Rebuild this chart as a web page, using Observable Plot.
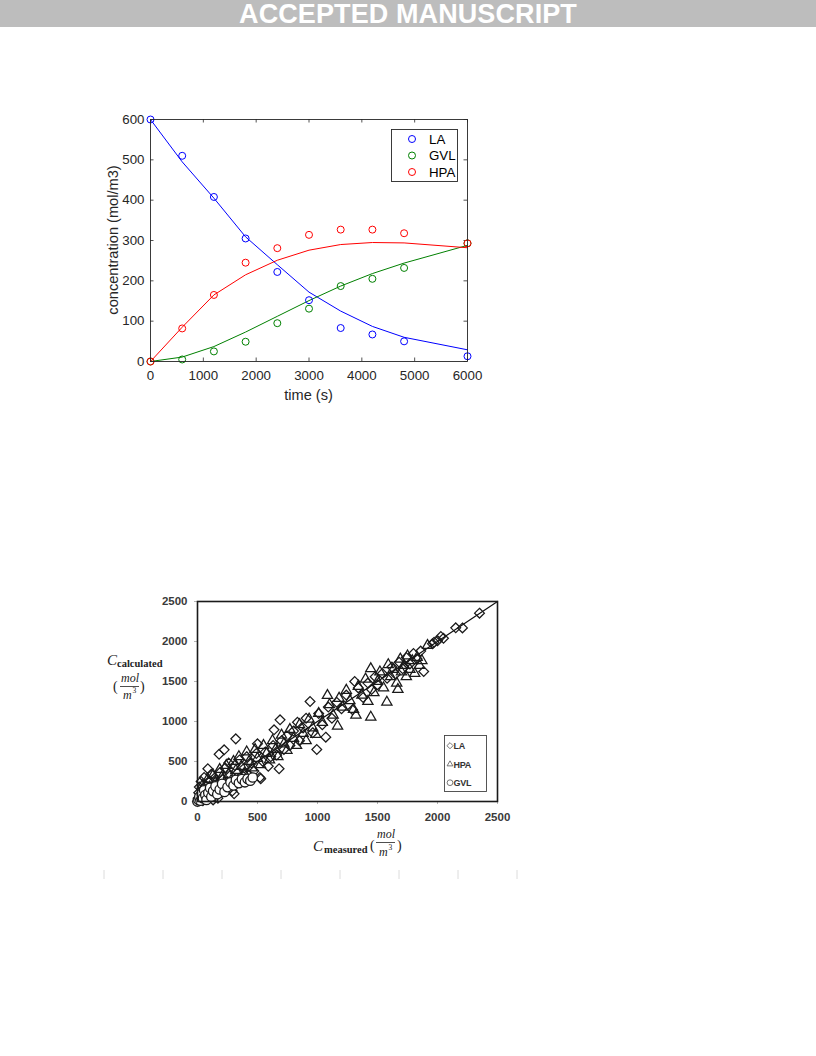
<!DOCTYPE html>
<html>
<head>
<meta charset="utf-8">
<script src="https://cdn.jsdelivr.net/npm/d3@7"></script>
<script src="https://cdn.jsdelivr.net/npm/@observablehq/plot@0.6"></script>
<style>
  html, body { margin: 0; padding: 0; background: #fff; }
  body { width: 816px; height: 1056px; position: relative; overflow: hidden; font-family: "Liberation Sans", Arial, sans-serif; }
  #banner { position: absolute; left: 0; top: 0; width: 816px; height: 27px; background: #bdbdbd; color: #fff;
            font-weight: bold; font-size: 27px; line-height: 29px; text-align: center; letter-spacing: 0.1px; }
  #chart1 { position: absolute; left: 100px; top: 100px; }
  #chart2 { position: absolute; left: 100px; top: 590px; }
  #overlay { position: absolute; left: 0; top: 0; pointer-events: none; }
</style>
</head>
<body>
<div id="banner">ACCEPTED MANUSCRIPT</div>
<div id="chart1"></div>
<div id="chart2"></div>
<script>
// ---------- Chart 1 data: concentration vs time ----------
const times = [0, 600, 1200, 1800, 2400, 3000, 3600, 4200, 4800, 6000];
const seriesNames = ["LA", "GVL", "HPA"];
const seriesColors = ["#0000ff", "#008000", "#ff0000"];
const measLA  = [600, 510, 408, 305, 222, 152, 83, 67, 50, 13];
const measGVL = [0, 5, 25, 49, 95, 131, 187, 205, 232, 293];
const measHPA = [0, 82, 165, 245, 281, 314, 327, 327, 318, 293];
const modelLA  = [600, 495, 405, 309, 240, 172, 125, 87, 60, 29];
const modelGVL = [0, 11, 37, 73, 112, 151, 187, 218, 244, 288];
const modelHPA = [0, 85, 165, 215, 251, 276, 290, 295, 294, 282];
const xTicks1 = [0, 1000, 2000, 3000, 4000, 5000, 6000];
const yTicks1 = [0, 100, 200, 300, 400, 500, 600];

// ---------- Chart 2 data: calculated vs measured ----------
const parityLine = [0, 2500];
const xTicks2 = [0, 500, 1000, 1500, 2000, 2500];
const yTicks2 = [0, 500, 1000, 1500, 2000, 2500];
const parityNames = ["LA", "HPA", "GVL"];
const laPoints = [[0,0],[5,40],[10,110],[15,180],[20,20],[25,70],[30,250],[40,150],[45,10],[55,300],[60,90],[70,200],[75,40],[86,409],[90,130],[100,260],[110,60],[115,340],[125,180],[130,20],[140,290],[150,100],[160,220],[170,40],[180,590],[185,360],[200,150],[210,280],[222,646],[230,420],[250,200],[260,480],[275,330],[290,130],[305,96],[310,450],[319,783],[335,360],[350,520],[370,250],[390,420],[410,560],[430,330],[450,480],[470,380],[490,600],[500,721],[520,300],[527,284],[545,500],[565,620],[590,440],[610,560],[630,700],[638,896],[660,580],[680,409],[688,1021],[700,760],[720,650],[745,820],[770,700],[800,880],[833,991],[850,760],[880,920],[905,1040],[938,1250],[960,860],[994,650],[1010,1100],[1040,960],[1069,804],[1090,1180],[1120,1040],[1160,1240],[1200,1160],[1240,1330],[1292,1146],[1310,1500],[1340,1420],[1380,1300],[1420,1480],[1450,1400],[1480,1560],[1500,1460],[1540,1600],[1580,1540],[1620,1680],[1650,1590],[1680,1740],[1710,1660],[1740,1800],[1770,1720],[1800,1850],[1830,1780],[1860,1880],[1885,1625],[1958,1971],[1972,1991],[2000,2010],[2028,2063],[2050,2040],[2152,2171],[2208,2170],[2350,2354]];
const hpaPoints = [[10,30],[25,90],[40,200],[55,140],[70,60],[85,280],[100,180],[115,110],[130,330],[150,240],[165,170],[185,400],[200,300],[220,220],[240,450],[260,340],[280,260],[300,500],[320,390],[345,560],[365,440],[390,350],[410,620],[430,500],[455,420],[480,650],[500,540],[525,460],[550,700],[575,600],[600,520],[625,760],[650,650],[670,560],[700,830],[720,720],[745,640],[770,900],[800,790],[825,700],[850,960],[880,850],[905,760],[930,1030],[960,920],[985,840],[1010,1100],[1040,990],[1083,1325],[1100,1210],[1130,1080],[1167,941],[1180,1290],[1210,1180],[1240,1390],[1270,1260],[1300,1150],[1320,1080],[1340,1440],[1370,1330],[1400,1530],[1420,1250],[1444,1659],[1444,1054],[1470,1360],[1500,1500],[1520,1620],[1550,1420],[1578,1241],[1590,1710],[1610,1560],[1630,1650],[1660,1480],[1670,1400],[1690,1780],[1700,1620],[1720,1700],[1740,1560],[1750,1820],[1770,1650],[1790,1760],[1810,1600],[1830,1800],[1850,1700],[1870,1760],[1917,1950]];
const gvlPoints = [[0,0],[8,20],[15,60],[25,10],[35,100],[45,40],[55,140],[65,80],[75,20],[90,110],[105,170],[115,60],[130,130],[150,190],[165,90],[185,150],[205,220],[225,120],[250,180],[275,240],[300,200],[320,270],[345,230],[370,280],[395,240],[417,283],[440,260],[460,300]];

// ---------- build tables ----------
const meas = [measLA, measGVL, measHPA];
const model = [modelLA, modelGVL, modelHPA];
const rowsMeas = [], rowsModel = [];
seriesNames.forEach((s, k) => times.forEach((t, i) => {
  rowsMeas.push({series: s, time: t, value: meas[k][i]});
  rowsModel.push({series: s, time: t, value: model[k][i]});
}));

const W1 = 380, H1 = 310, ML1 = 50, MR1 = 13, MT1 = 19, MB1 = 49;
const fw1 = W1 - ML1 - MR1, fh1 = H1 - MT1 - MB1, tk1 = 3.5;
const axisCol = "#262626";

const chart1 = Plot.plot({
  width: W1, height: H1, marginLeft: ML1, marginRight: MR1, marginTop: MT1, marginBottom: MB1,
  style: {fontFamily: '"Liberation Sans", Arial, sans-serif', fontSize: "13.3px", color: axisCol, background: "transparent", overflow: "visible"},
  x: {domain: [0, 6000], ticks: xTicks1, tickSize: 0, tickPadding: 9, tickFormat: "d", label: null},
  y: {domain: [0, 600], ticks: yTicks1, tickSize: 0, tickPadding: 6, tickFormat: "d", label: null},
  color: {domain: seriesNames, range: seriesColors},
  marks: [
    Plot.ruleX(xTicks1, {insetTop: fh1 - tk1, stroke: axisCol, strokeWidth: 0.8}),
    Plot.ruleX(xTicks1, {insetBottom: fh1 - tk1, stroke: axisCol, strokeWidth: 0.8}),
    Plot.ruleY(yTicks1, {insetRight: fw1 - tk1, stroke: axisCol, strokeWidth: 0.8}),
    Plot.ruleY(yTicks1, {insetLeft: fw1 - tk1, stroke: axisCol, strokeWidth: 0.8}),
    Plot.line(rowsModel, {x: "time", y: "value", z: "series", stroke: "series", strokeWidth: 1}),
    Plot.dot(rowsMeas, {x: "time", y: "value", stroke: "series", r: 3.5, strokeWidth: 1, fill: "none"}),
    Plot.frame({stroke: axisCol, strokeWidth: 0.9})
  ]
});
document.getElementById("chart1").appendChild(chart1);

const toRows = (pts, name) => pts.map(([m, c]) => ({series: name, measured: m, calculated: c}));
const chart2 = Plot.plot({
  width: 410, height: 240, marginLeft: 97, marginRight: 13, marginTop: 11, marginBottom: 29,
  style: {fontFamily: '"Liberation Sans", Arial, sans-serif', fontSize: "11.5px", fontWeight: "bold", color: "#3a3a3a", background: "transparent", overflow: "visible"},
  x: {domain: [0, 2500], label: null},
  y: {domain: [0, 2500], label: null},
  marks: [
    Plot.axisX(xTicks2, {tickSize: 3, tickPadding: 8, stroke: "#b5b5b5", fill: "#3a3a3a", tickFormat: "d", label: null}),
    Plot.axisY(yTicks2, {tickSize: 3, tickPadding: 7, stroke: "#b5b5b5", fill: "#3a3a3a", tickFormat: "d", label: null}),
    Plot.line(parityLine, {x: d => d, y: d => d, stroke: "#111", strokeWidth: 1.2}),
    Plot.dot(toRows(laPoints, "LA"), {x: "measured", y: "calculated", symbol: "diamond2", r: 4.4, stroke: "#1a1a1a", strokeWidth: 1.25, fill: "none"}),
    Plot.dot(toRows(hpaPoints, "HPA"), {x: "measured", y: "calculated", symbol: "triangle2", r: 4.9, stroke: "#1a1a1a", strokeWidth: 1.25, fill: "none"}),
    Plot.dot(toRows(gvlPoints, "GVL"), {x: "measured", y: "calculated", symbol: "circle", r: 4.7, stroke: "#1a1a1a", strokeWidth: 1.3, fill: "#fff"}),
    Plot.frame({stroke: "#1a1a1a", strokeWidth: 1.6})
  ]
});
document.getElementById("chart2").appendChild(chart2);

// ---------- overlay: axis titles, legends ----------
const svg = d3.create("svg").attr("id", "overlay").attr("width", 816).attr("height", 1056);
const sans = '"Liberation Sans", Arial, sans-serif';
const serif = '"Liberation Serif", "Times New Roman", serif';

// chart 1 axis titles
svg.append("text").attr("x", 308.5).attr("y", 400).attr("text-anchor", "middle")
  .attr("font-family", sans).attr("font-size", 14.6).attr("fill", axisCol).text("time (s)");
svg.append("text").attr("transform", "translate(118,240) rotate(-90)").attr("text-anchor", "middle")
  .attr("font-family", sans).attr("font-size", 14.6).attr("fill", axisCol).text("concentration (mol/m3)");

// chart 1 legend
const lg1 = svg.append("g");
lg1.append("rect").attr("x", 391.5).attr("y", 129.5).attr("width", 66).attr("height", 52)
  .attr("fill", "#fff").attr("stroke", axisCol).attr("stroke-width", 0.9);
seriesNames.forEach((s, i) => {
  const cy = 139 + i * 16.5;
  lg1.append("circle").attr("cx", 412).attr("cy", cy).attr("r", 3.5).attr("fill", "none").attr("stroke", seriesColors[i]);
  lg1.append("text").attr("x", 429).attr("y", cy + 4.7).attr("font-family", sans).attr("font-size", 13.3).attr("fill", "#000").text(s);
});

// chart 2 y title: C_calculated (mol/m^3)
const yt = svg.append("g").attr("fill", "#222").attr("font-family", serif);
yt.append("text").attr("x", 107).attr("y", 665).attr("font-size", 15).attr("font-style", "italic").text("C");
yt.append("text").attr("x", 117).attr("y", 667).attr("font-size", 10.5).attr("font-weight", "bold").text("calculated");
yt.append("text").attr("x", 113).attr("y", 691).attr("font-size", 14).text("(");
yt.append("text").attr("x", 121).attr("y", 682).attr("font-size", 12).attr("font-style", "italic").text("mol");
yt.append("line").attr("x1", 120).attr("x2", 139).attr("y1", 686.5).attr("y2", 686.5).attr("stroke", "#222").attr("stroke-width", 0.8);
yt.append("text").attr("x", 123).attr("y", 699).attr("font-size", 12).attr("font-style", "italic").text("m");
yt.append("text").attr("x", 132.5).attr("y", 693).attr("font-size", 7.5).text("3");
yt.append("text").attr("x", 140).attr("y", 691).attr("font-size", 14).text(")");

// chart 2 x title: C_measured (mol/m^3)
const xt = svg.append("g").attr("fill", "#222").attr("font-family", serif);
xt.append("text").attr("x", 313).attr("y", 851).attr("font-size", 15).attr("font-style", "italic").text("C");
xt.append("text").attr("x", 324).attr("y", 853).attr("font-size", 10.5).attr("font-weight", "bold").text("measured");
xt.append("text").attr("x", 370).attr("y", 850).attr("font-size", 14).text("(");
xt.append("text").attr("x", 377).attr("y", 838).attr("font-size", 12).attr("font-style", "italic").text("mol");
xt.append("line").attr("x1", 376).attr("x2", 395).attr("y1", 842.5).attr("y2", 842.5).attr("stroke", "#222").attr("stroke-width", 0.8);
xt.append("text").attr("x", 379).attr("y", 856).attr("font-size", 12).attr("font-style", "italic").text("m");
xt.append("text").attr("x", 388.5).attr("y", 850).attr("font-size", 7.5).text("3");
xt.append("text").attr("x", 397).attr("y", 850).attr("font-size", 14).text(")");

// chart 2 legend
const lg2 = svg.append("g");
lg2.append("rect").attr("x", 444.5).attr("y", 735.5).attr("width", 42).attr("height", 56)
  .attr("fill", "#fff").attr("stroke", "#444").attr("stroke-width", 0.9);
const legSyms = [d3.symbolDiamond2, d3.symbolTriangle2, d3.symbolCircle];
parityNames.forEach((s, i) => {
  const cy = 745.7 + i * 18.5;
  lg2.append("path").attr("d", d3.symbol().type(legSyms[i]).size(i === 2 ? 26 : 24)())
    .attr("transform", `translate(450,${cy})`).attr("fill", "none").attr("stroke", "#555").attr("stroke-width", 0.8);
  lg2.append("text").attr("x", 453.5).attr("y", cy + 3.3).attr("font-family", sans).attr("font-weight", "bold")
    .attr("font-size", 9).attr("letter-spacing", -0.3).attr("fill", "#333").text(s);
});

// faint table markers at the bottom
const gm = svg.append("g").attr("stroke", "#dcdcdc").attr("stroke-width", 1);
for (let i = 0; i < 8; i++) {
  const x = 104 + i * 59;
  gm.append("line").attr("x1", x).attr("x2", x).attr("y1", 870).attr("y2", 879);
}

document.body.appendChild(svg.node());
</script>
</body>
</html>
